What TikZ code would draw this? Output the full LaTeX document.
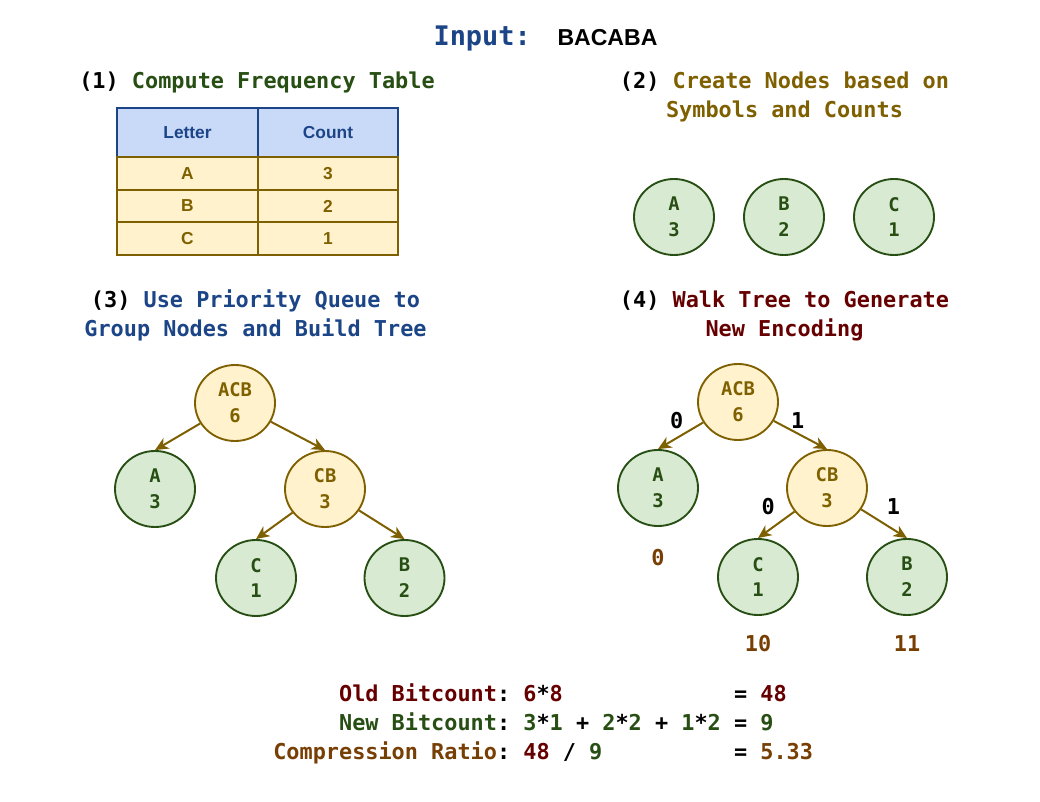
\documentclass[tikz,border=0pt]{standalone}
\usepackage{fontspec}
\usetikzlibrary{positioning,shapes.geometric,arrows.meta}

\newfontfamily\codefont{DejaVu Sans Mono}
\newfontfamily\tablefont{Liberation Sans}

\definecolor{navy}{HTML}{1C4587}
\definecolor{leafgreen}{HTML}{274E13}
\definecolor{olive}{HTML}{7F6000}
\definecolor{maroon}{HTML}{660000}
\definecolor{rust}{HTML}{783F04}
\definecolor{headfill}{HTML}{C9DAF8}
\definecolor{leaffill}{HTML}{D9EAD3}
\definecolor{mergefill}{HTML}{FFF2CC}

\begin{document}
\begin{tikzpicture}[x=0.75pt, y=-0.75pt,
	heading/.style = {font=\codefont\bfseries\fontsize{16.4}{21.75}\selectfont, align=center},
	leaf/.style = {ellipse, draw=leafgreen, fill=leaffill, line width=1.4pt,
		minimum width=60pt, minimum height=57pt, inner sep=0pt, text=leafgreen,
		align=center, font=\codefont\bfseries\fontsize{14.1}{19.3}\selectfont},
	merged/.style = {leaf, draw=olive, fill=mergefill, text=olive},
	link/.style = {draw=olive, line width=1.5pt, -{Stealth[length=10pt, width=9pt, inset=3pt]}},
	cell/.style = {draw=olive, fill=mergefill, line width=1.4pt, minimum width=105.5pt,
		minimum height=24.5pt, inner sep=0pt, text=olive,
		font=\tablefont\bfseries\fontsize{13}{15}\selectfont},
	headcell/.style = {cell, draw=navy, fill=headfill, text=navy, minimum height=36.75pt},
	bit/.style = {font=\codefont\bfseries\fontsize{16.4}{20}\selectfont, inner sep=0pt},
	codeword/.style = {bit, text=rust},
	tally/.style = {bit, anchor=base west, font=\codefont\bfseries\fontsize{16.4}{20}\selectfont\frenchspacing}]

\fill[white] (0,0) rectangle (1040,802);
\useasboundingbox (0,0) rectangle (1040,802);

% title
\node (title) at (545.5,38) {\codefont\bfseries\fontsize{20.2}{24}\selectfont
	\textcolor{navy}{Input:}\hspace{20pt}{\tablefont\fontsize{17.3}{20}\selectfont BACABA}};

% (1) frequency table
\node [heading] (step1) at (257,82) {(1) \textcolor{leafgreen}{Compute Frequency Table}};
\node [headcell] (hdletter) at (187.5,132.5) {Letter};
\node [headcell] (hdcount) at (328,132.5) {Count};
\foreach \sym/\num [count=\i] in {A/3, B/2, C/1} {
	\node [cell] (sym\i) at (187.5,141+32.5*\i) {\sym};
	\node [cell] (num\i) at (328,141+32.5*\i) {\num};
}

% (2) one node per symbol
\node [heading] (step2) at (784.5,96.5)
	{(2) \textcolor{olive}{Create Nodes based on}\\\textcolor{olive}{Symbols and Counts}};
\node [leaf] (nodeA) at (674,217) {A\\3};
\node [leaf] (nodeB) at (784,217) {B\\2};
\node [leaf] (nodeC) at (894,217) {C\\1};

% (3) build the tree
\node [heading] (step3) at (255.5,315.5)
	{(3) \textcolor{navy}{Use Priority Queue to}\\\textcolor{navy}{Group Nodes and Build Tree}};
\node [merged] (t3acb) at (235,403) {ACB\\6};
\node [leaf] (t3a) at (155,489) {A\\3};
\node [merged] (t3cb) at (325,489) {CB\\3};
\node [leaf] (t3c) at (256,578) {C\\1};
\node [leaf] (t3b) at (404.5,578) {B\\2};
\draw [link] (t3acb) -- (t3a.north);
\draw [link] (t3acb) -- (t3cb.north);
\draw [link] (t3cb) -- (t3c.north);
\draw [link] (t3cb) -- (t3b.north);

% (4) walk the tree
\node [heading] (step4) at (784.5,315.5)
	{(4) \textcolor{maroon}{Walk Tree to Generate}\\\textcolor{maroon}{New Encoding}};
\node [merged] (t4acb) at (738,402) {ACB\\6};
\node [leaf] (t4a) at (658,488) {A\\3};
\node [merged] (t4cb) at (827,488) {CB\\3};
\node [leaf] (t4c) at (758,577) {C\\1};
\node [leaf] (t4b) at (907,577) {B\\2};
\draw [link] (t4acb) -- node [bit, midway, above=4.5pt, xshift=-3pt] {0} (t4a.north);
\draw [link] (t4acb) -- node [bit, midway, above=3.75pt, xshift=-2pt] {1} (t4cb.north);
\draw [link] (t4cb) -- node [bit, midway, above=6.75pt, xshift=-6pt] {0} (t4c.north);
\draw [link] (t4cb) -- node [bit, midway, above=6pt, xshift=7pt] {1} (t4b.north);
\node [codeword, below=16.5pt of t4a] (codeA) {0};
\node [codeword, below=14.25pt of t4c] (codeC) {10};
\node [codeword, below=14.25pt of t4b] (codeB) {11};

% bitcounts
\node [tally] (oldbits) at (273,701) {\hphantom{xxxxx}\textcolor{maroon}{Old Bitcount}:
	\textcolor{maroon}{6}*\textcolor{maroon}{8}~~~~~~~~~~~~~= \textcolor{maroon}{48}};
\node [tally] (newbits) at (273,730) {\hphantom{xxxxx}\textcolor{leafgreen}{New Bitcount}:
	\textcolor{leafgreen}{3}*\textcolor{leafgreen}{1} + \textcolor{leafgreen}{2}*\textcolor{leafgreen}{2}
	+ \textcolor{leafgreen}{1}*\textcolor{leafgreen}{2} = \textcolor{leafgreen}{9}};
\node [tally] (ratio) at (273,759) {\textcolor{rust}{Compression Ratio}:
	\textcolor{maroon}{48} / \textcolor{leafgreen}{9}~~~~~~~~~~= \textcolor{rust}{5.33}};
\end{tikzpicture}
\end{document}
